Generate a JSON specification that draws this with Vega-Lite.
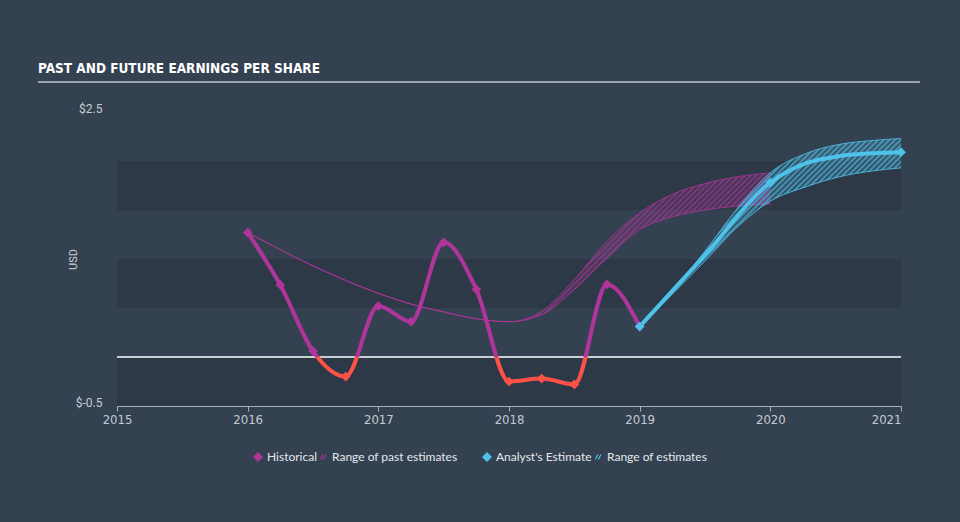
{
  "$schema": "https://vega.github.io/schema/vega-lite/v6.json",
  "width": 784,
  "height": 294,
  "autosize": "none",
  "padding": {"left": 117, "top": 112, "right": 59, "bottom": 116},
  "background": "#344151",
  "config": {"view": {"stroke": null}},
  "title": {
    "text": "PAST AND FUTURE EARNINGS PER SHARE",
    "anchor": "start",
    "frame": "group",
    "dx": -79,
    "dy": 11,
    "font": "Liberation Sans Narrow, DejaVu Sans Condensed, sans-serif",
    "fontSize": 13.5,
    "fontWeight": "bold",
    "color": "#ffffff",
    "baseline": "alphabetic",
    "offset": 6
  },
  "resolve": {"scale": {"color": "independent", "shape": "independent"}},
  "datasets": {
    "bands": [{"lo": 1.5, "hi": 2}, {"lo": 0.5, "hi": 1}, {"lo": -0.5, "hi": 0}],
    "hist": [
      {"t": 2016.0, "v": 1.27, "series": "Historical"},
      {"t": 2016.25, "v": 0.735, "series": "Historical"},
      {"t": 2016.5, "v": 0.06, "series": "Historical"},
      {"t": 2016.75, "v": -0.2, "series": "Historical"},
      {"t": 2017.0, "v": 0.52, "series": "Historical"},
      {"t": 2017.25, "v": 0.36, "series": "Historical"},
      {"t": 2017.5, "v": 1.17, "series": "Historical"},
      {"t": 2017.75, "v": 0.69, "series": "Historical"},
      {"t": 2018.0, "v": -0.25, "series": "Historical"},
      {"t": 2018.25, "v": -0.22, "series": "Historical"},
      {"t": 2018.5, "v": -0.28, "series": "Historical"},
      {"t": 2018.75, "v": 0.74, "series": "Historical"},
      {"t": 2019.0, "v": 0.31, "series": "Historical"}
    ],
    "past": [
      {"t": 2016.0, "lo": 1.27, "hi": 1.27},
      {"t": 2016.5, "lo": 0.93, "hi": 0.93},
      {"t": 2017.0, "lo": 0.65, "hi": 0.65},
      {"t": 2017.25, "lo": 0.54, "hi": 0.54},
      {"t": 2017.5, "lo": 0.46, "hi": 0.46},
      {"t": 2017.75, "lo": 0.39, "hi": 0.39},
      {"t": 2018.0, "lo": 0.36, "hi": 0.36},
      {"t": 2018.25, "lo": 0.43, "hi": 0.465},
      {"t": 2018.5, "lo": 0.69, "hi": 0.79},
      {"t": 2018.75, "lo": 1.01, "hi": 1.18},
      {"t": 2019.0, "lo": 1.3, "hi": 1.47},
      {"t": 2019.25, "lo": 1.43, "hi": 1.66},
      {"t": 2019.5, "lo": 1.5, "hi": 1.77},
      {"t": 2019.75, "lo": 1.54, "hi": 1.84},
      {"t": 2020.0, "lo": 1.56, "hi": 1.88}
    ],
    "est": [
      {"t": 2019, "v": 0.31, "series": "Analyst's Estimate"},
      {"t": 2020, "v": 1.78, "series": "Analyst's Estimate"},
      {"t": 2021, "v": 2.09, "series": "Analyst's Estimate"}
    ],
    "estline": [
      {"t": 2019.0, "v": 0.31},
      {"t": 2019.5, "v": 1.04},
      {"t": 2020.0, "v": 1.78},
      {"t": 2020.28, "v": 1.98},
      {"t": 2020.53, "v": 2.05},
      {"t": 2020.79, "v": 2.08},
      {"t": 2021.0, "v": 2.09}
    ],
    "estrange": [
      {"t": 2019.0, "lo": 0.31, "hi": 0.31},
      {"t": 2019.5, "lo": 0.98, "hi": 1.08},
      {"t": 2019.75, "lo": 1.33, "hi": 1.52},
      {"t": 2020.0, "lo": 1.59, "hi": 1.88},
      {"t": 2020.28, "lo": 1.74, "hi": 2.08},
      {"t": 2020.53, "lo": 1.84, "hi": 2.17},
      {"t": 2020.79, "lo": 1.9, "hi": 2.21},
      {"t": 2021.0, "lo": 1.93, "hi": 2.23}
    ]
  },
  "layer": [
    {
      "data": {"name": "bands"},
      "mark": {"type": "rect", "color": "#2e3948"},
      "encoding": {
        "x": {
          "datum": 2015,
          "type": "quantitative",
          "scale": {"domain": [2015, 2021], "nice": false, "zero": false},
          "axis": {
            "values": [2015, 2016, 2017, 2018, 2019, 2020, 2021],
            "format": "d",
            "title": null,
            "grid": false,
            "domainColor": "#a8b2be",
            "domainWidth": 1,
            "tickColor": "#a8b2be",
            "tickSize": 5,
            "labelPadding": 2,
            "labelColor": "#c4cad2",
            "labelFont": "Liberation Sans Narrow, DejaVu Sans Condensed, sans-serif",
            "labelFontSize": 13,
            "labelAlign": {"expr": "datum.value >= 2021 ? 'right' : 'center'"}
          }
        },
        "x2": {"datum": 2021},
        "y": {
          "field": "lo",
          "type": "quantitative",
          "title": "USD",
          "scale": {"domain": [-0.5, 2.5], "nice": false, "zero": false},
          "axis": {
            "values": [-0.5, 2.5],
            "labelExpr": "'$' + datum.value",
            "title": "USD",
            "grid": false,
            "domain": false,
            "ticks": false,
            "labelPadding": 15,
            "labelBaseline": "alphabetic",
            "labelColor": "#c8cdd4",
            "labelFont": "Roboto",
            "labelFontSize": 12,
            "titleColor": "#c8cdd4",
            "titleFont": "Roboto",
            "titleFontSize": 11,
            "titleFontWeight": "normal",
            "titlePadding": -3
          }
        },
        "y2": {"field": "hi"}
      }
    },
    {
      "data": {"values": [{}]},
      "mark": {"type": "rule", "color": "#ffffff", "strokeWidth": 1.5},
      "encoding": {
        "x": {"datum": 2015, "type": "quantitative"},
        "x2": {"datum": 2021},
        "y": {"datum": 0, "type": "quantitative"}
      }
    },
    {
      "data": {"values": [{}]},
      "mark": {"type": "rule", "color": "#9da4ad", "strokeWidth": 2},
      "encoding": {
        "x": {"datum": 2014.395, "type": "quantitative"},
        "x2": {"datum": 2021.145},
        "y": {"datum": 2.806, "type": "quantitative"}
      }
    },
    {
      "data": {"name": "past"},
      "mark": {
        "type": "area",
        "interpolate": "monotone",
        "fill": {
          "gradient": "linear",
          "x1": 0, "y1": 0, "x2": 1, "y2": 0.285,
          "stops": [
            {"offset": 0.700, "color": "rgba(176,53,155,0.06)"},
            {"offset": 0.705, "color": "rgba(176,53,155,0.7)"},
            {"offset": 0.710, "color": "rgba(176,53,155,0.06)"},
            {"offset": 0.715, "color": "rgba(176,53,155,0.7)"},
            {"offset": 0.720, "color": "rgba(176,53,155,0.06)"},
            {"offset": 0.725, "color": "rgba(176,53,155,0.7)"},
            {"offset": 0.730, "color": "rgba(176,53,155,0.06)"},
            {"offset": 0.735, "color": "rgba(176,53,155,0.7)"},
            {"offset": 0.740, "color": "rgba(176,53,155,0.06)"},
            {"offset": 0.745, "color": "rgba(176,53,155,0.7)"},
            {"offset": 0.750, "color": "rgba(176,53,155,0.06)"},
            {"offset": 0.755, "color": "rgba(176,53,155,0.7)"},
            {"offset": 0.760, "color": "rgba(176,53,155,0.06)"},
            {"offset": 0.765, "color": "rgba(176,53,155,0.7)"},
            {"offset": 0.770, "color": "rgba(176,53,155,0.06)"},
            {"offset": 0.775, "color": "rgba(176,53,155,0.7)"},
            {"offset": 0.780, "color": "rgba(176,53,155,0.06)"},
            {"offset": 0.785, "color": "rgba(176,53,155,0.7)"},
            {"offset": 0.790, "color": "rgba(176,53,155,0.06)"},
            {"offset": 0.795, "color": "rgba(176,53,155,0.7)"},
            {"offset": 0.800, "color": "rgba(176,53,155,0.06)"},
            {"offset": 0.805, "color": "rgba(176,53,155,0.7)"},
            {"offset": 0.810, "color": "rgba(176,53,155,0.06)"},
            {"offset": 0.815, "color": "rgba(176,53,155,0.7)"},
            {"offset": 0.820, "color": "rgba(176,53,155,0.06)"},
            {"offset": 0.825, "color": "rgba(176,53,155,0.7)"},
            {"offset": 0.830, "color": "rgba(176,53,155,0.06)"},
            {"offset": 0.835, "color": "rgba(176,53,155,0.7)"},
            {"offset": 0.840, "color": "rgba(176,53,155,0.06)"},
            {"offset": 0.845, "color": "rgba(176,53,155,0.7)"},
            {"offset": 0.850, "color": "rgba(176,53,155,0.06)"},
            {"offset": 0.855, "color": "rgba(176,53,155,0.7)"},
            {"offset": 0.860, "color": "rgba(176,53,155,0.06)"},
            {"offset": 0.865, "color": "rgba(176,53,155,0.7)"},
            {"offset": 0.870, "color": "rgba(176,53,155,0.06)"},
            {"offset": 0.875, "color": "rgba(176,53,155,0.7)"},
            {"offset": 0.880, "color": "rgba(176,53,155,0.06)"},
            {"offset": 0.885, "color": "rgba(176,53,155,0.7)"},
            {"offset": 0.890, "color": "rgba(176,53,155,0.06)"},
            {"offset": 0.895, "color": "rgba(176,53,155,0.7)"},
            {"offset": 0.900, "color": "rgba(176,53,155,0.06)"},
            {"offset": 0.905, "color": "rgba(176,53,155,0.7)"},
            {"offset": 0.910, "color": "rgba(176,53,155,0.06)"},
            {"offset": 0.915, "color": "rgba(176,53,155,0.7)"},
            {"offset": 0.920, "color": "rgba(176,53,155,0.06)"},
            {"offset": 0.925, "color": "rgba(176,53,155,0.7)"},
            {"offset": 0.930, "color": "rgba(176,53,155,0.06)"},
            {"offset": 0.935, "color": "rgba(176,53,155,0.7)"},
            {"offset": 0.940, "color": "rgba(176,53,155,0.06)"},
            {"offset": 0.945, "color": "rgba(176,53,155,0.7)"},
            {"offset": 0.950, "color": "rgba(176,53,155,0.06)"},
            {"offset": 0.955, "color": "rgba(176,53,155,0.7)"},
            {"offset": 0.960, "color": "rgba(176,53,155,0.06)"},
            {"offset": 0.965, "color": "rgba(176,53,155,0.7)"},
            {"offset": 0.970, "color": "rgba(176,53,155,0.06)"},
            {"offset": 0.975, "color": "rgba(176,53,155,0.7)"},
            {"offset": 0.980, "color": "rgba(176,53,155,0.06)"},
            {"offset": 0.985, "color": "rgba(176,53,155,0.7)"},
            {"offset": 0.990, "color": "rgba(176,53,155,0.06)"},
            {"offset": 0.995, "color": "rgba(176,53,155,0.7)"},
            {"offset": 1.000, "color": "rgba(176,53,155,0.06)"}
          ]
        }
      },
      "encoding": {
        "x": {"field": "t", "type": "quantitative"},
        "y": {"field": "lo", "type": "quantitative", "title": "USD"},
        "y2": {"field": "hi"}
      }
    },
    {
      "data": {"name": "past"},
      "transform": [{"fold": ["lo", "hi"]}],
      "mark": {"type": "line", "interpolate": "monotone", "color": "#b0359b", "strokeWidth": 1, "opacity": 0.8},
      "encoding": {
        "x": {"field": "t", "type": "quantitative"},
        "y": {"field": "value", "type": "quantitative", "title": "USD"},
        "detail": {"field": "key"}
      }
    },
    {
      "data": {"name": "hist"},
      "mark": {
        "type": "line",
        "interpolate": "monotone",
        "strokeWidth": 4,
        "stroke": {
          "gradient": "linear",
          "x1": 0, "y1": 0, "x2": 0, "y2": 1,
          "stops": [
            {"offset": 0, "color": "#b0359b"},
            {"offset": 0.8194, "color": "#b0359b"},
            {"offset": 0.8194, "color": "#ff5148"},
            {"offset": 1, "color": "#ff5148"}
          ]
        }
      },
      "encoding": {
        "x": {"field": "t", "type": "quantitative"},
        "y": {"field": "v", "type": "quantitative", "title": "USD"}
      }
    },
    {
      "data": {"name": "estrange"},
      "mark": {
        "type": "area",
        "interpolate": "monotone",
        "fill": {
          "gradient": "linear",
          "x1": 0, "y1": 0, "x2": 1, "y2": 0.72,
          "stops": [
            {"offset": 0.360, "color": "rgba(79,194,234,0.08)"},
            {"offset": 0.367, "color": "rgba(79,194,234,0.75)"},
            {"offset": 0.374, "color": "rgba(79,194,234,0.08)"},
            {"offset": 0.381, "color": "rgba(79,194,234,0.75)"},
            {"offset": 0.388, "color": "rgba(79,194,234,0.08)"},
            {"offset": 0.395, "color": "rgba(79,194,234,0.75)"},
            {"offset": 0.402, "color": "rgba(79,194,234,0.08)"},
            {"offset": 0.409, "color": "rgba(79,194,234,0.75)"},
            {"offset": 0.416, "color": "rgba(79,194,234,0.08)"},
            {"offset": 0.423, "color": "rgba(79,194,234,0.75)"},
            {"offset": 0.430, "color": "rgba(79,194,234,0.08)"},
            {"offset": 0.437, "color": "rgba(79,194,234,0.75)"},
            {"offset": 0.444, "color": "rgba(79,194,234,0.08)"},
            {"offset": 0.451, "color": "rgba(79,194,234,0.75)"},
            {"offset": 0.458, "color": "rgba(79,194,234,0.08)"},
            {"offset": 0.465, "color": "rgba(79,194,234,0.75)"},
            {"offset": 0.472, "color": "rgba(79,194,234,0.08)"},
            {"offset": 0.479, "color": "rgba(79,194,234,0.75)"},
            {"offset": 0.486, "color": "rgba(79,194,234,0.08)"},
            {"offset": 0.493, "color": "rgba(79,194,234,0.75)"},
            {"offset": 0.500, "color": "rgba(79,194,234,0.08)"},
            {"offset": 0.507, "color": "rgba(79,194,234,0.75)"},
            {"offset": 0.514, "color": "rgba(79,194,234,0.08)"},
            {"offset": 0.521, "color": "rgba(79,194,234,0.75)"},
            {"offset": 0.528, "color": "rgba(79,194,234,0.08)"},
            {"offset": 0.535, "color": "rgba(79,194,234,0.75)"},
            {"offset": 0.542, "color": "rgba(79,194,234,0.08)"},
            {"offset": 0.549, "color": "rgba(79,194,234,0.75)"},
            {"offset": 0.556, "color": "rgba(79,194,234,0.08)"},
            {"offset": 0.563, "color": "rgba(79,194,234,0.75)"},
            {"offset": 0.570, "color": "rgba(79,194,234,0.08)"},
            {"offset": 0.577, "color": "rgba(79,194,234,0.75)"},
            {"offset": 0.584, "color": "rgba(79,194,234,0.08)"},
            {"offset": 0.591, "color": "rgba(79,194,234,0.75)"},
            {"offset": 0.598, "color": "rgba(79,194,234,0.08)"},
            {"offset": 0.605, "color": "rgba(79,194,234,0.75)"},
            {"offset": 0.612, "color": "rgba(79,194,234,0.08)"},
            {"offset": 0.619, "color": "rgba(79,194,234,0.75)"},
            {"offset": 0.626, "color": "rgba(79,194,234,0.08)"},
            {"offset": 0.633, "color": "rgba(79,194,234,0.75)"},
            {"offset": 0.640, "color": "rgba(79,194,234,0.08)"},
            {"offset": 0.647, "color": "rgba(79,194,234,0.75)"},
            {"offset": 0.654, "color": "rgba(79,194,234,0.08)"},
            {"offset": 0.661, "color": "rgba(79,194,234,0.75)"},
            {"offset": 0.668, "color": "rgba(79,194,234,0.08)"},
            {"offset": 0.675, "color": "rgba(79,194,234,0.75)"},
            {"offset": 0.682, "color": "rgba(79,194,234,0.08)"},
            {"offset": 0.689, "color": "rgba(79,194,234,0.75)"},
            {"offset": 0.696, "color": "rgba(79,194,234,0.08)"},
            {"offset": 0.703, "color": "rgba(79,194,234,0.75)"},
            {"offset": 0.710, "color": "rgba(79,194,234,0.08)"},
            {"offset": 0.717, "color": "rgba(79,194,234,0.75)"},
            {"offset": 0.724, "color": "rgba(79,194,234,0.08)"},
            {"offset": 0.731, "color": "rgba(79,194,234,0.75)"},
            {"offset": 0.738, "color": "rgba(79,194,234,0.08)"},
            {"offset": 0.745, "color": "rgba(79,194,234,0.75)"},
            {"offset": 0.752, "color": "rgba(79,194,234,0.08)"},
            {"offset": 0.759, "color": "rgba(79,194,234,0.75)"},
            {"offset": 0.766, "color": "rgba(79,194,234,0.08)"},
            {"offset": 0.773, "color": "rgba(79,194,234,0.75)"},
            {"offset": 0.780, "color": "rgba(79,194,234,0.08)"},
            {"offset": 0.787, "color": "rgba(79,194,234,0.75)"},
            {"offset": 0.794, "color": "rgba(79,194,234,0.08)"},
            {"offset": 0.801, "color": "rgba(79,194,234,0.75)"},
            {"offset": 0.808, "color": "rgba(79,194,234,0.08)"}
          ]
        }
      },
      "encoding": {
        "x": {"field": "t", "type": "quantitative"},
        "y": {"field": "lo", "type": "quantitative", "title": "USD"},
        "y2": {"field": "hi"}
      }
    },
    {
      "data": {"name": "estrange"},
      "transform": [{"fold": ["lo", "hi"]}],
      "mark": {"type": "line", "interpolate": "monotone", "color": "#4fc2ea", "strokeWidth": 1, "opacity": 0.85},
      "encoding": {
        "x": {"field": "t", "type": "quantitative"},
        "y": {"field": "value", "type": "quantitative", "title": "USD"},
        "detail": {"field": "key"}
      }
    },
    {
      "data": {"name": "estline"},
      "mark": {"type": "line", "interpolate": "monotone", "color": "#4fc2ea", "strokeWidth": 4},
      "encoding": {
        "x": {"field": "t", "type": "quantitative"},
        "y": {"field": "v", "type": "quantitative", "title": "USD"}
      }
    },
    {
      "data": {"name": "hist"},
      "transform": [{"filter": "datum.v >= 0"}],
      "mark": {"type": "point", "filled": true, "size": 95, "opacity": 1},
      "encoding": {
        "x": {"field": "t", "type": "quantitative"},
        "y": {"field": "v", "type": "quantitative", "title": "USD"},
        "color": {
          "field": "series",
          "type": "nominal",
          "scale": {"domain": ["Historical", "Range of past estimates"], "range": ["#b0359b", "#b0359b"]},
          "legend": {
            "title": null, "orient": "none", "legendX": 135, "legendY": 339,
            "direction": "horizontal", "columns": 2, "columnPadding": 0, "padding": 0,
            "labelFont": "Lato", "labelFontSize": 12, "labelColor": "#e4e7eb", "labelOffset": 3,
            "symbolSize": 100
          }
        },
        "shape": {
          "field": "series",
          "type": "nominal",
          "scale": {"domain": ["Historical", "Range of past estimates"], "range": ["diamond", "M-0.65,0.5L-0.4,0.5L0.1,-0.5L-0.15,-0.5ZM-0.05,0.5L0.2,0.5L0.7,-0.5L0.45,-0.5Z"]},
          "legend": {
            "title": null, "orient": "none", "legendX": 135, "legendY": 339,
            "direction": "horizontal", "columns": 2, "columnPadding": 0, "padding": 0,
            "labelFont": "Lato", "labelFontSize": 12, "labelColor": "#e4e7eb", "labelOffset": 3,
            "symbolSize": 100
          }
        }
      }
    },
    {
      "data": {"name": "hist"},
      "transform": [{"filter": "datum.v < 0"}],
      "mark": {"type": "point", "filled": true, "size": 95, "opacity": 1, "shape": "diamond", "color": "#ff5148"},
      "encoding": {
        "x": {"field": "t", "type": "quantitative"},
        "y": {"field": "v", "type": "quantitative", "title": "USD"}
      }
    },
    {
      "data": {"name": "est"},
      "mark": {"type": "point", "filled": true, "size": 95, "opacity": 1},
      "encoding": {
        "x": {"field": "t", "type": "quantitative"},
        "y": {"field": "v", "type": "quantitative", "title": "USD"},
        "color": {
          "field": "series",
          "type": "nominal",
          "scale": {"domain": ["Analyst's Estimate", "Range of estimates"], "range": ["#4fc2ea", "#4fc2ea"]},
          "legend": {
            "title": null, "orient": "none", "legendX": 364, "legendY": 339,
            "direction": "horizontal", "columns": 2, "columnPadding": 0, "padding": 0,
            "labelFont": "Lato", "labelFontSize": 12, "labelColor": "#e4e7eb", "labelOffset": 3,
            "symbolSize": 100
          }
        },
        "shape": {
          "field": "series",
          "type": "nominal",
          "scale": {"domain": ["Analyst's Estimate", "Range of estimates"], "range": ["diamond", "M-0.65,0.5L-0.4,0.5L0.1,-0.5L-0.15,-0.5ZM-0.05,0.5L0.2,0.5L0.7,-0.5L0.45,-0.5Z"]},
          "legend": {
            "title": null, "orient": "none", "legendX": 364, "legendY": 339,
            "direction": "horizontal", "columns": 2, "columnPadding": 0, "padding": 0,
            "labelFont": "Lato", "labelFontSize": 12, "labelColor": "#e4e7eb", "labelOffset": 3,
            "symbolSize": 100
          }
        }
      }
    }
  ]
}
